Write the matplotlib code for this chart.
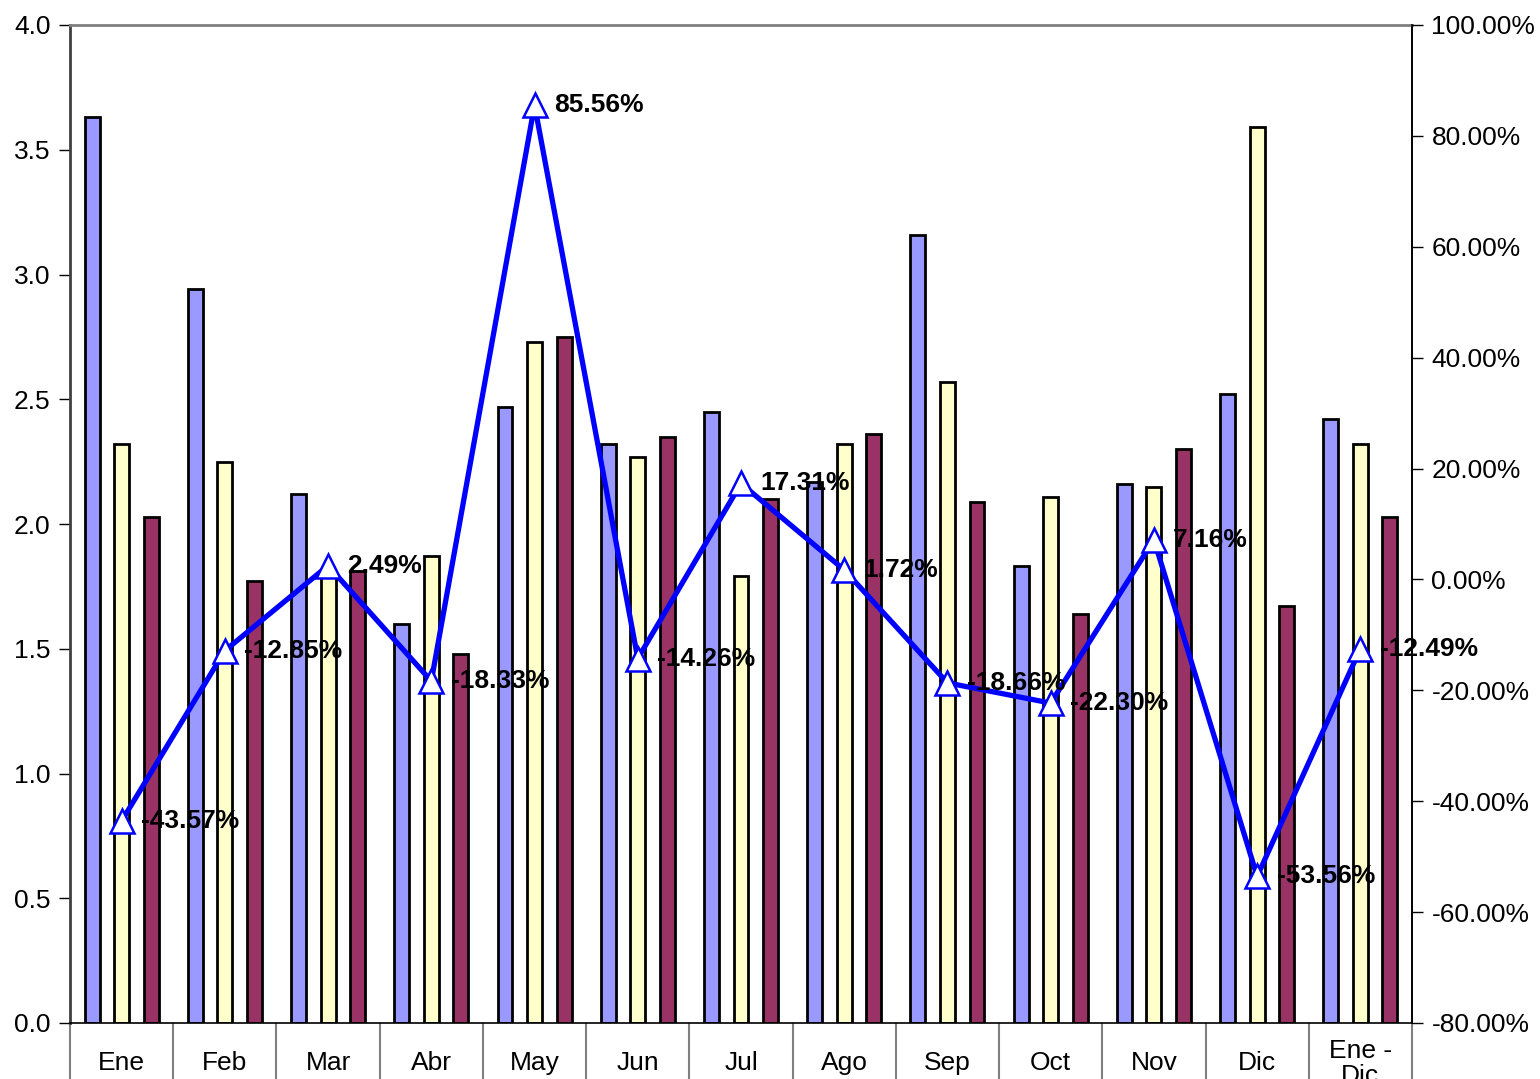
import matplotlib
matplotlib.use("Agg")
import matplotlib.pyplot as plt
import numpy as np
from matplotlib.ticker import FuncFormatter, FixedLocator

plt.rcParams['font.family'] = ['Liberation Sans', 'DejaVu Sans']

categories = ["Ene", "Feb", "Mar", "Abr", "May", "Jun", "Jul", "Ago", "Sep", "Oct", "Nov", "Dic", "Ene -\nDic"]
series_a = [3.63, 2.94, 2.12, 1.60, 2.47, 2.32, 2.45, 2.17, 3.16, 1.83, 2.16, 2.52, 2.42]
series_b = [2.32, 2.25, 1.80, 1.87, 2.73, 2.27, 1.79, 2.32, 2.57, 2.11, 2.15, 3.59, 2.32]
series_c = [2.03, 1.77, 1.81, 1.48, 2.75, 2.35, 2.10, 2.36, 2.09, 1.64, 2.30, 1.67, 2.03]
pct_change = [-43.57, -12.85, 2.49, -18.33, 85.56, -14.26, 17.31, 1.72, -18.66, -22.30, 7.16, -53.56, -12.49]

fig = plt.figure(figsize=(15.4, 10.79), dpi=100)
ax = fig.add_axes([70/1540, 1-1023/1079, 1342/1540, 998/1079])
n = len(categories)
x = np.arange(n)
w = 0.145
off = 0.286
ax.bar(x - off, series_a, w, color="#9999FF", edgecolor="black", linewidth=2.0, zorder=2)
ax.bar(x, series_b, w, color="#FFFFCC", edgecolor="black", linewidth=2.0, zorder=2)
ax.bar(x + off, series_c, w, color="#993366", edgecolor="black", linewidth=2.0, zorder=2)

ax.set_xlim(-0.5, n - 0.5)
ax.set_ylim(0, 4.0)
ax.set_yticks(np.arange(0, 4.01, 0.5))
ax.yaxis.set_major_formatter(FuncFormatter(lambda v, p: f"{v:.1f}"))
ax.tick_params(axis='y', labelsize=19, direction='out', length=8, width=1, pad=6)

# category boundaries as long ticks, labels at centers
ax.xaxis.set_major_locator(FixedLocator(np.arange(-0.5, n, 1.0)))
ax.xaxis.set_major_formatter(FuncFormatter(lambda v, p: ""))
ax.tick_params(axis='x', which='major', direction='out', length=70, width=1.5, color="#808080")
ax.xaxis.set_minor_locator(FixedLocator(x))
ax.set_xticklabels(categories, minor=True)
ax.tick_params(axis='x', which='minor', length=0, labelsize=19, pad=29)
for lab in ax.xaxis.get_minorticklabels():
    lab.set_linespacing(1.05)
    lab.set_verticalalignment('center')

ax.spines['top'].set_color("#808080")
ax.spines['top'].set_linewidth(2)
ax.spines['left'].set_color("#404040")
ax.spines['left'].set_linewidth(2)
ax.spines['bottom'].set_linewidth(1.2)
ax.spines['right'].set_linewidth(1.2)

ax2 = ax.twinx()
ax2.set_ylim(-80, 100)
ax2.set_yticks(np.arange(-80, 100.1, 20))
ax2.yaxis.set_major_formatter(FuncFormatter(lambda v, p: f"{v:.2f}%"))
ax2.tick_params(axis='y', labelsize=19, direction='out', length=8, width=1, pad=6)
ax2.plot(x, pct_change, color="#0000FF", linewidth=3.8, marker="^", markersize=17,
         markerfacecolor="white", markeredgecolor="#0000FF", markeredgewidth=1.8, zorder=5)
for xi, v in zip(x, pct_change):
    ax2.annotate(f"{v:.2f}%", (xi, v), xytext=(14, 0), textcoords="offset points",
                 ha="left", va="center", fontsize=19, fontweight="bold", zorder=6)
for s in ax2.spines.values():
    s.set_visible(False)
ax2.spines['right'].set_visible(True)
ax2.spines['right'].set_linewidth(1.2)

fig.savefig("out.png", dpi=100)
